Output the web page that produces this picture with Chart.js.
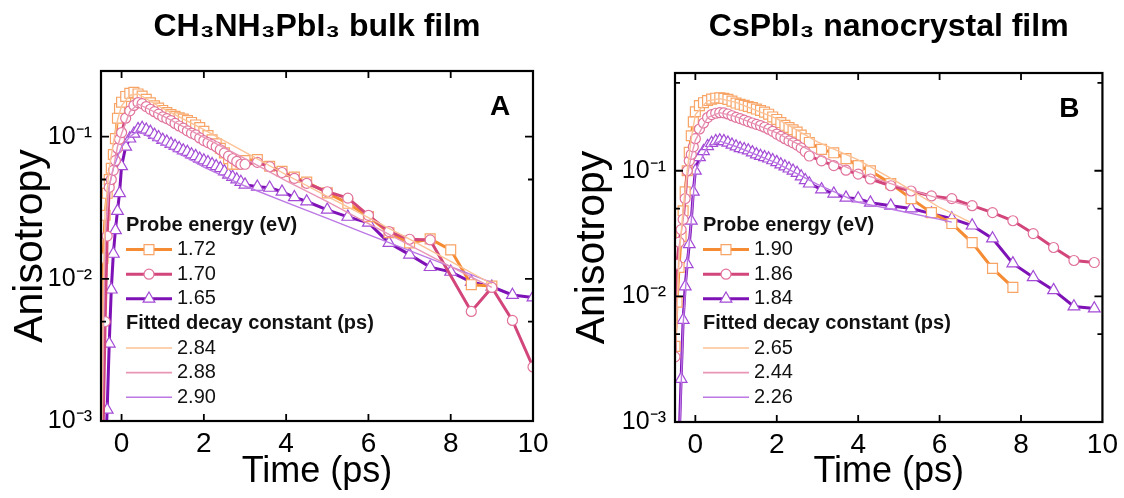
<!DOCTYPE html>
<html><head><meta charset="utf-8">
<script src="https://cdn.jsdelivr.net/npm/chart.js@4.4.0/dist/chart.umd.min.js"></script>
<style>
html,body{margin:0;padding:0;background:#fff;width:1124px;height:498px;overflow:hidden}
.wrap{position:absolute;top:0;height:498px;width:562px}
#wa{left:0}
#wb{left:562px}
canvas{display:block}
</style></head><body>
<div class="wrap" id="wa"><canvas id="ca" width="562" height="498"></canvas></div>
<div class="wrap" id="wb"><canvas id="cb" width="562" height="498"></canvas></div>
<script>
// ---------------- data ----------------
const xTickValues = [0, 2, 4, 6, 8, 10];
const yTickValues = [0.001, 0.01, 0.1];
const yTickLabels = ['10\u207B\u00B3', '10\u207B\u00B2', '10\u207B\u00B9'];
const yMinorA = [0.005, 0.05];
const yMinorB = [0.005, 0.05, 0.5];

const titleA = 'CH\u2083NH\u2083PbI\u2083 bulk film';
const titleB = 'CsPbI\u2083 nanocrystal film';
const energiesA = ['1.72', '1.70', '1.65'];
const fitConstA = ['2.84', '2.88', '2.90'];
const energiesB = ['1.90', '1.86', '1.84'];
const fitConstB = ['2.65', '2.44', '2.26'];

// Panel A : CH3NH3PbI3 bulk film
const timeA = [-0.5,-0.45,-0.4,-0.35,-0.3,-0.25,-0.2,-0.15,-0.1,-0.05,0,
  0.1,0.2,0.3,0.4,0.5,0.6,0.7,0.8,0.9,1.0,
  1.1,1.2,1.3,1.4,1.5,1.6,1.7,1.8,1.9,2.0,
  2.1,2.2,2.3,2.4,2.5,2.6,2.7,2.8,2.9,3.0,
  3.3,3.6,3.9,4.2,4.5,5.0,5.5,6.0,6.5,7.0,7.5,8.0,8.5,9.0,9.5,10.0];
const orangeA = [0.0007,0.014,0.028,0.04,0.05,0.06,0.075,0.097,0.135,0.158,0.175,
  0.192,0.202,0.205,0.2,0.193,0.183,0.173,0.165,0.159,0.153,
  0.148,0.143,0.139,0.136,0.133,0.13,0.126,0.121,0.116,0.109,
  0.102,0.095,0.089,0.083,0.077,0.07,0.064,0.064,0.066,0.068,
  0.069,0.062,0.057,0.052,0.048,0.0403,0.034,0.0274,0.0211,0.0179,0.0191,0.016,0.0091,0.0089,null,null];
const pinkA = [null,0.0008,0.005,0.02,0.044,0.05,0.058,0.068,0.083,0.096,0.107,
  0.135,0.152,0.166,0.174,0.171,0.163,0.156,0.15,0.144,0.138,
  0.134,0.13,0.124,0.119,0.115,0.11,0.106,0.103,0.098,0.094,
  0.091,0.088,0.085,0.081,0.077,0.073,0.07,0.067,0.064,0.064,
  0.066,0.0615,0.056,0.051,0.047,0.041,0.037,0.028,0.0215,0.019,0.0188,null,0.0059,0.0087,0.0051,0.0024];
const purpleA = [null,null,0.0005,0.0012,0.0035,0.0084,0.015,0.022,0.03,0.04,0.062,
  0.085,0.097,0.105,0.113,0.115,0.112,0.108,0.103,0.099,0.095,
  0.092,0.089,0.086,0.083,0.08,0.078,0.075,0.073,0.07,0.068,
  0.066,0.064,0.062,0.06,0.057,0.054,0.052,0.05,0.048,0.046,
  0.0444,0.0437,0.041,0.0375,0.035,0.0306,0.0273,0.0248,0.0179,0.0148,0.0121,0.0112,0.0095,0.0088,0.0077,0.0074];
const fitTimeA = [-0.48,-0.45,-0.4,-0.3,-0.2,-0.1,0,0.2,0.4,1,2,3,4,5,6,7,8,9];
const fitOrangeA = [0.0006,0.008,0.03,0.06,0.09,0.13,0.165,0.196,0.2,0.158,0.112,0.078,0.054,0.038,0.027,0.019,0.0133,0.0092];
const fitPinkA = [0.0006,0.004,0.02,0.045,0.06,0.085,0.105,0.15,0.17,0.14,0.099,0.07,0.049,0.035,0.0245,0.0173,0.0122,0.0087];
const fitPurpleA = [0.0006,0.003,0.02,0.045,0.06,0.072,0.085,0.1,0.11,0.088,0.061,0.045,0.0345,0.0266,0.0205,0.0158,0.0122,0.0094];

// Panel B : CsPbI3 nanocrystal film
const timeB = [-0.5,-0.45,-0.4,-0.35,-0.3,-0.25,-0.2,-0.15,-0.1,-0.05,0,
  0.1,0.2,0.3,0.4,0.5,0.6,0.7,0.8,0.9,1.0,
  1.1,1.2,1.3,1.4,1.5,1.6,1.7,1.8,1.9,2.0,
  2.1,2.2,2.3,2.4,2.5,2.6,2.7,2.8,
  3.1,3.4,3.7,4.0,4.3,4.8,5.3,5.8,6.3,6.8,7.3,7.8,8.3,8.8,9.3,9.8];
const orangeB = [0.004,0.009,0.017,0.03,0.048,0.068,0.1,0.14,0.19,0.245,0.295,
  0.33,0.348,0.362,0.372,0.378,0.38,0.377,0.37,0.358,0.346,
  0.338,0.332,0.325,0.318,0.31,0.302,0.293,0.282,0.268,0.256,
  0.242,0.23,0.221,0.212,0.203,0.192,0.18,0.168,
  0.148,0.139,0.125,0.11,0.1,0.079,0.06,0.0464,0.038,0.0268,0.0167,0.0118,null,null,null,null];
const pinkB = [0.0033,0.018,0.027,0.034,0.041,0.06,0.1,0.12,0.135,0.155,0.18,
  0.215,0.24,0.265,0.28,0.287,0.29,0.289,0.283,0.274,0.266,
  0.26,0.253,0.246,0.24,0.234,0.229,0.222,0.214,0.206,0.196,
  0.188,0.18,0.173,0.167,0.16,0.152,0.142,0.131,
  0.12,0.11,0.101,0.094,0.086,0.076,0.069,0.063,0.06,0.0527,0.0464,0.04,0.0316,0.0245,0.0193,0.0186];
const purpleB = [null,null,0.0007,0.0022,0.0065,0.012,0.018,0.026,0.04,0.068,0.1,
  0.128,0.143,0.157,0.166,0.172,0.174,0.172,0.167,0.161,0.156,
  0.151,0.148,0.145,0.14,0.135,0.131,0.128,0.125,0.121,0.117,
  0.112,0.108,0.104,0.1,0.096,0.09,0.084,0.079,
  0.071,0.0657,0.061,0.06,0.0557,0.0527,0.05,0.0456,0.0416,0.0366,0.0289,0.0183,0.0142,0.0112,0.0083,0.008];
const fitTimeB = [-0.5,-0.4,-0.3,-0.2,-0.1,0,0.3,0.6,1,2,3,4,5,6,6.3,6.75];
const fitOrangeB = [0.003,0.02,0.05,0.1,0.18,0.28,0.36,0.375,0.35,0.26,0.17,0.122,0.08,0.051,0.046,0.039];
const fitPinkB = [0.003,0.025,0.04,0.09,0.13,0.175,0.265,0.29,0.27,0.2,0.135,0.097,0.075,0.06,0.057,0.052];
const fitPurpleB = [null,0.0006,0.006,0.018,0.04,0.1,0.155,0.172,0.156,0.115,0.078,0.056,0.048,0.041,0.039,null];

// ---------------- styles ----------------
const FONT = '"Liberation Sans", Arial, Helvetica, sans-serif';
const STY = {
  orange: {line: '#F58B33', marker: '#F8A466', fit: '#FCC194', style: 'rect', r: 7},
  pink:   {line: '#D2467B', marker: '#E1729B', fit: '#E996B6', style: 'circle', r: 5},
  purple: {line: '#7E12B6', marker: '#A34AD6', fit: '#BC78E4', style: 'triangle', r: 6.8}
};

function pts(times, vals) { return times.map((t, i) => ({x: t, y: vals[i]})); }

function dataSet(label, times, vals, s, order) {
  return {label, data: pts(times, vals), borderColor: s.line, borderWidth: 3,
    pointStyle: s.style, pointRadius: s.r, pointBorderColor: s.marker,
    pointBackgroundColor: '#ffffff', pointBorderWidth: 1.2, spanGaps: true,
    tension: 0, order};
}
function fitSet(label, times, vals, s) {
  return {label, data: pts(times, vals), borderColor: s.fit, borderWidth: 1.4,
    pointRadius: 0, spanGaps: true, tension: 0, order: 0};
}

function drawMarker(ctx, style, x, y, r) {
  ctx.beginPath();
  if (style === 'rect') {
    const h = r * Math.SQRT1_2;
    ctx.rect(x - h, y - h, 2 * h, 2 * h);
  } else if (style === 'circle') {
    ctx.arc(x, y, r, 0, Math.PI * 2);
  } else {
    const w = r * Math.sqrt(3) / 2;
    ctx.moveTo(x, y - r);
    ctx.lineTo(x + w, y + r / 2);
    ctx.lineTo(x - w, y + r / 2);
    ctx.closePath();
  }
  ctx.fill();
  ctx.stroke();
}

const legendPlugin = {
  id: 'panelLegend',
  afterDatasetsDraw(chart, args, o) {
    const ctx = chart.ctx, a = chart.chartArea;
    const x0 = a.left + o.dx, y0 = a.top + o.dy, step = o.step;
    const keys = ['orange', 'pink', 'purple'];
    ctx.save();
    ctx.textBaseline = 'middle';
    ctx.textAlign = 'left';
    ctx.fillStyle = '#111';
    ctx.font = 'bold 20px ' + FONT;
    ctx.fillText('Probe energy (eV)', x0, y0);
    ctx.fillText('Fitted decay constant (ps)', x0, y0 + step * 4);
    keys.forEach((k, i) => {
      const s = STY[k];
      let y = y0 + step * (i + 1);
      ctx.strokeStyle = s.line; ctx.lineWidth = 3;
      ctx.beginPath(); ctx.moveTo(x0, y); ctx.lineTo(x0 + 46, y); ctx.stroke();
      ctx.fillStyle = '#fff'; ctx.strokeStyle = s.marker; ctx.lineWidth = 1.2;
      drawMarker(ctx, s.style, x0 + 23, y, s.r);
      ctx.fillStyle = '#111'; ctx.font = '20px ' + FONT;
      ctx.fillText(o.energies[i], x0 + 51, y);
      y = y0 + step * (i + 5);
      ctx.strokeStyle = s.fit; ctx.lineWidth = 1.6;
      ctx.beginPath(); ctx.moveTo(x0, y); ctx.lineTo(x0 + 46, y); ctx.stroke();
      ctx.fillText(o.fits[i], x0 + 51, y);
    });
    ctx.restore();
  }
};

const framePlugin = {
  id: 'frame',
  afterDraw(chart, args, o) {
    const {ctx, chartArea: a, scales: {x, y}} = chart;
    ctx.save();
    ctx.strokeStyle = '#000';
    ctx.lineWidth = 1.8;
    ctx.beginPath();
    xTickValues.forEach(v => {
      const px = x.getPixelForValue(v);
      if (px > a.left + 2 && px < a.right - 2) {
        ctx.moveTo(px, a.bottom); ctx.lineTo(px, a.bottom - 7);
        ctx.moveTo(px, a.top); ctx.lineTo(px, a.top + 7);
      }
    });
    yTickValues.forEach(v => {
      const py = y.getPixelForValue(v);
      if (py > a.top + 2 && py < a.bottom - 2) {
        ctx.moveTo(a.left, py); ctx.lineTo(a.left + 8, py);
        ctx.moveTo(a.right, py); ctx.lineTo(a.right - 8, py);
      }
    });
    o.minor.forEach(v => {
      const py = y.getPixelForValue(v);
      if (py > a.top + 2 && py < a.bottom - 2) {
        ctx.moveTo(a.left, py); ctx.lineTo(a.left + 5, py);
        ctx.moveTo(a.right, py); ctx.lineTo(a.right - 5, py);
      }
    });
    ctx.stroke();
    ctx.lineWidth = 2.2;
    ctx.strokeRect(a.left, a.top, a.right - a.left, a.bottom - a.top);
    ctx.fillStyle = '#000';
    ctx.font = 'bold 28px ' + FONT;
    ctx.textAlign = 'center';
    ctx.textBaseline = 'middle';
    ctx.fillText(o.letter, a.right - 33, a.top + 36);
    ctx.restore();
  }
};

function makeChart(id, p) {
  const datasets = [
    dataSet(p.energies[0], p.time, p.orange, STY.orange, 2),
    dataSet(p.energies[1], p.time, p.pink, STY.pink, 1),
    dataSet(p.energies[2], p.time, p.purple, STY.purple, 3),
    fitSet(p.fits[0], p.fitTime, p.fitOrange, STY.orange),
    fitSet(p.fits[1], p.fitTime, p.fitPink, STY.pink),
    fitSet(p.fits[2], p.fitTime, p.fitPurple, STY.purple)
  ];
  return new Chart(document.getElementById(id), {
    type: 'line',
    data: {datasets},
    options: {
      responsive: false,
      animation: false,
      events: [],
      layout: {padding: {left: 0, right: p.padRight, top: 0, bottom: 0}},
      plugins: {
        legend: {display: false},
        tooltip: {enabled: false},
        title: {display: true, text: p.title, fullSize: false, color: '#000',
          font: {family: FONT, size: 32, weight: 'bold', lineHeight: 1.2},
          padding: {top: 8, bottom: p.titleBottom}},
        panelLegend: {dx: p.legDx, dy: p.legDy, step: 24.6, energies: p.energies, fits: p.fits},
        frame: {minor: p.minor, letter: p.letter}
      },
      scales: {
        x: {type: 'linear', position: 'bottom', min: -0.5, max: 10,
          grid: {display: false, drawTicks: false}, border: {display: false},
          afterBuildTicks: s => { s.ticks = xTickValues.map(v => ({value: v})); },
          afterFit: s => { s.height = p.xHeight; },
          ticks: {color: '#000', padding: 6, maxRotation: 0, font: {family: FONT, size: 28},
            callback: v => String(v)},
          title: {display: true, text: 'Time (ps)', color: '#000',
            font: {family: FONT, size: 36}, padding: {top: 0, bottom: 4}}
        },
        y: {type: 'logarithmic', position: 'left', min: 0.001, max: p.yMax,
          grid: {display: false, drawTicks: false}, border: {display: false},
          afterBuildTicks: s => { s.ticks = yTickValues.map(v => ({value: v})); },
          afterFit: s => { s.width = p.yWidth; },
          ticks: {color: '#000', padding: 9, font: {family: FONT, size: 25},
            callback: (v, i) => yTickLabels[i]},
          title: {display: true, text: 'Anisotropy', color: '#000',
            font: {family: FONT, size: 41}, padding: {top: 6, bottom: 0}}
        }
      }
    },
    plugins: [legendPlugin, framePlugin]
  });
}

makeChart('ca', {
  title: titleA, time: timeA, orange: orangeA, pink: pinkA, purple: purpleA,
  fitTime: fitTimeA, fitOrange: fitOrangeA, fitPink: fitPinkA, fitPurple: fitPurpleA,
  energies: energiesA, fits: fitConstA, minor: yMinorA, letter: 'A',
  yMax: 0.29, yWidth: 101, xHeight: 77, padRight: 29, titleBottom: 24.6,
  legDx: 25, legDy: 154
});
makeChart('cb', {
  title: titleB, time: timeB, orange: orangeB, pink: pinkB, purple: purpleB,
  fitTime: fitTimeB, fitOrange: fitOrangeB, fitPink: fitPinkB, fitPurple: fitPurpleB,
  energies: energiesB, fits: fitConstB, minor: yMinorB, letter: 'B',
  yMax: 0.6, yWidth: 113, xHeight: 76, padRight: 17, titleBottom: 26.6,
  legDx: 28, legDy: 152
});
</script>
</body></html>
